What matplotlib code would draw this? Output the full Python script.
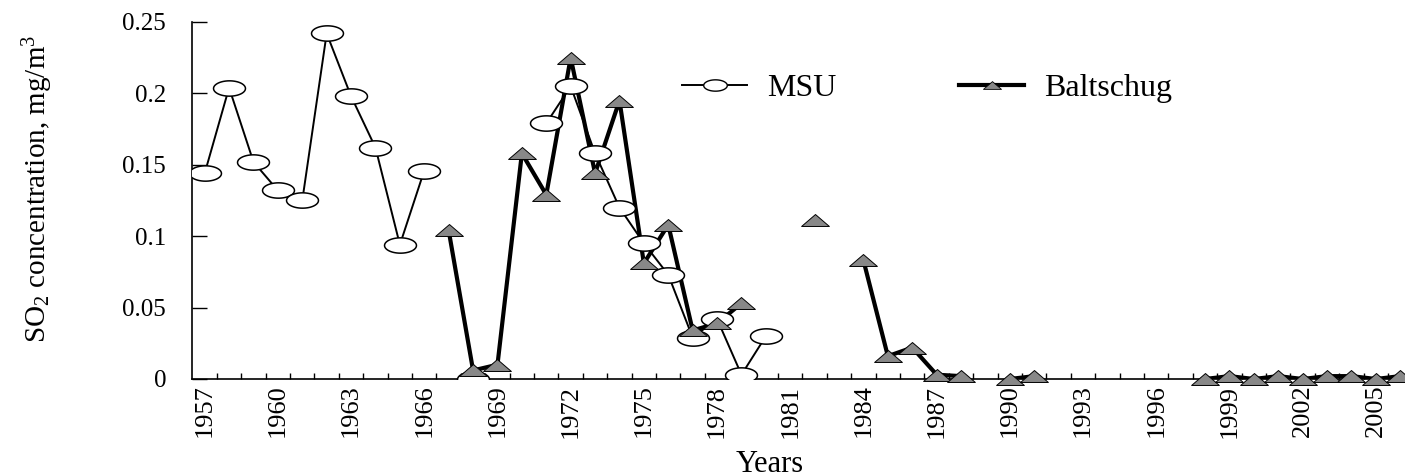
import numpy as np
import matplotlib
matplotlib.use("Agg")
import matplotlib.pyplot as plt
from matplotlib.path import Path
from matplotlib.lines import Line2D

plt.rcParams['font.family'] = ['Liberation Serif', 'DejaVu Serif']
plt.rcParams['mathtext.fontset'] = 'custom'
plt.rcParams['mathtext.rm'] = 'Liberation Serif'
plt.rcParams['mathtext.it'] = 'Liberation Serif:italic'

nan = np.nan

# ---- data ----
years = np.arange(1957, 2007)

msu = [0.144, 0.204, 0.152, 0.132, 0.125, 0.242, 0.198, 0.162, 0.094, 0.146,   # 1957-1966
       nan, 0.000, nan, nan, 0.179, 0.205, 0.158, 0.120, 0.095, 0.073,         # 1967-1976
       0.029, 0.042, 0.003, 0.030, nan, nan, nan, nan, nan, nan,               # 1977-1986
       nan, nan, nan, nan, nan, nan, nan, nan, nan, nan,                       # 1987-1996
       nan, nan, nan, nan, nan, nan, nan, nan, nan, nan]                       # 1997-2006

baltschug = [nan, nan, nan, nan, nan, nan, nan, nan, nan, nan,                 # 1957-1966
             0.104, 0.006, 0.010, 0.158, 0.129, 0.225, 0.144, 0.195, 0.081, 0.108,  # 1967-1976
             0.034, 0.039, 0.053, nan, nan, 0.111, nan, 0.083, 0.016, 0.022,   # 1977-1986
             0.003, 0.002, nan, 0.000, 0.002, nan, nan, nan, nan, nan,         # 1987-1996
             nan, 0.000, 0.002, 0.000, 0.002, 0.000, 0.002, 0.002, 0.000, 0.002]  # 1997-2006

label_years = years[::3]
yticks = [0, 0.05, 0.1, 0.15, 0.2, 0.25]
ytick_labels = ['0', '0.05', '0.1', '0.15', '0.2', '0.25']

# flattened marker shapes (the source image is stretched sideways)
t = np.linspace(0, 2 * np.pi, 60)
ellipse = Path(np.column_stack([np.cos(t), 0.48 * np.sin(t)]), closed=True)
flat_tri = Path([(-1, -0.43), (1, -0.43), (0, 0.43), (-1, -0.43)], closed=True)

fig = plt.figure(figsize=(14.05, 4.76), dpi=100)
ax = fig.add_axes([0.137, 0.2038, 0.8683, 0.75])

# lines first, markers on top (spreadsheet style)
ax.plot(years, msu, color='black', lw=1.4, zorder=2)
ax.plot(years, baltschug, color='black', lw=3.0, zorder=2.5)
ax.plot(years, msu, ls='none', marker=ellipse, ms=23, mfc='white',
        mec='black', mew=1.1, zorder=3)
ax.plot(years, baltschug, ls='none', marker=flat_tri, ms=20, mfc='#888888',
        mec='black', mew=0.7, zorder=4, clip_on=False)

ax.set_xlim(1956.5, 2006.5)
ax.set_ylim(0, 0.25)

ax.spines['top'].set_visible(False)
ax.spines['right'].set_visible(False)
ax.spines['left'].set_linewidth(1.2)
ax.spines['bottom'].set_linewidth(1.2)

ax.set_xticks(label_years)
ax.set_xticklabels([str(y) for y in label_years], rotation=90, fontsize=19)
ax.set_xticks(np.arange(1957.5, 2006.5, 1), minor=True)
ax.tick_params(axis='x', which='major', length=0, pad=4)
ax.tick_params(axis='x', which='minor', direction='in', length=4.5, width=1)

ax.set_yticks(yticks)
ax.set_yticklabels(ytick_labels, fontsize=18)
ax.tick_params(axis='y', direction='in', length=11, width=1, pad=19)

fig.text(0.027, 0.603, r'SO$_2$ concentration, mg/m$^3$', rotation=90,
         ha='center', va='center', fontsize=21)
fig.text(0.548, 0.025, 'Years', ha='center', va='center', fontsize=22)

handles = [
    Line2D([], [], color='black', lw=1.4, marker=ellipse, ms=17,
           mfc='white', mec='black', mew=1.0),
    Line2D([], [], color='black', lw=3.0, marker=flat_tri, ms=13,
           mfc='#888888', mec='black', mew=0.6),
]
fig.legend(handles, ['MSU', 'Baltschug'], loc='center left',
           bbox_to_anchor=(0.4765, 0.815), ncol=2, frameon=False,
           fontsize=23, handlelength=2.03, handletextpad=0.63,
           columnspacing=3.85, borderaxespad=0)

fig.savefig('out.png', dpi=100)
